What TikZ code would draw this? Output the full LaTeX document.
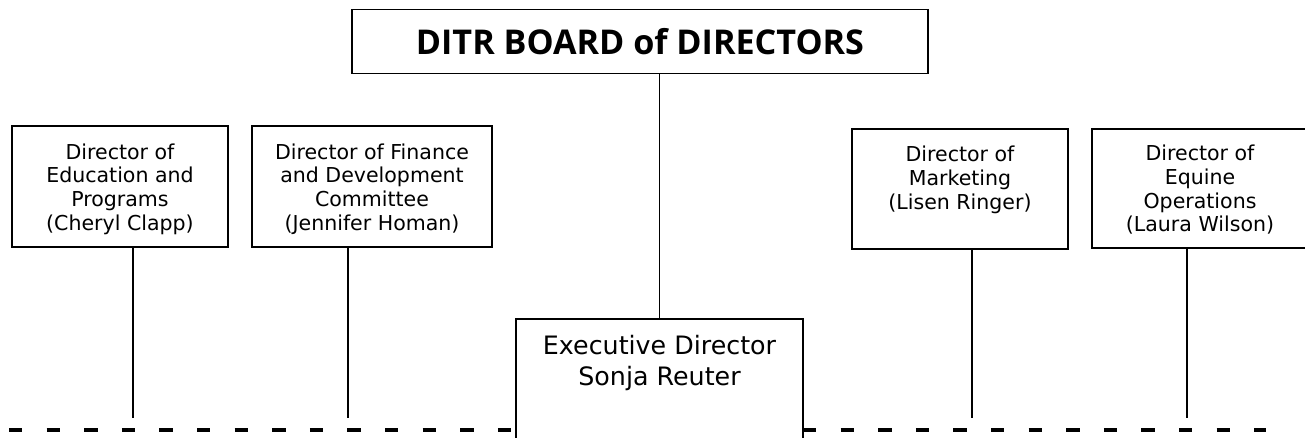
\documentclass[tikz,border=0pt]{standalone}
\usepackage{fontspec}
\setmainfont{DejaVu Sans}
\newfontfamily\boardfont{Open Sans}
\usetikzlibrary{calc}
\tikzset{
  px/.style={x=0.75pt,y=-0.75pt},
  orgbox/.style 2 args={draw=black, line width=1.4pt, inner sep=0pt, outer sep=0pt,
    minimum width=#1*0.75pt, minimum height=#2*0.75pt, fill=white},
  smalltxt/.style={inner sep=0pt, align=center, anchor=north,
    font=\fontsize{15.4pt}{17.7pt}\selectfont},
  exectxt/.style={inner sep=0pt, align=center, anchor=north,
    font=\fontsize{19pt}{23.25pt}\selectfont},
  stem/.style={line width=1.2pt},
  dashline/.style={line width=3.4pt, dash pattern=on 10.1pt off 18.1pt},
}
\begin{document}
\begin{tikzpicture}[px]
\useasboundingbox (0,0) rectangle (1305,437);
\clip (0,0) rectangle (1305,437);
% boxes
\node[orgbox={576}{64}, font=\boardfont\bfseries\fontsize{25.6pt}{30pt}\selectfont] (board) at (640,41.5) {DITR BOARD of DIRECTORS};
\node[orgbox={216}{121}] (b1) at (120,186.5) {};
\node[orgbox={240}{121}] (b2) at (372,186.5) {};
\node[orgbox={216}{120}] (b3) at (960,189) {};
\node[orgbox={214}{119}] (b4) at (1199,188.5) {};
\node[orgbox={287}{150}, line width=1.1pt] (exec) at (659.5,394) {};
% texts
\node[smalltxt] (t1) at (120,143.5) {Director of\\Education and\\Programs\\(Cheryl Clapp)};
\node[smalltxt] (t2) at (372,143.5) {Director of Finance\\and Development\\Committee\\(Jennifer Homan)};
\node[smalltxt] (t3) at (960,146) {Director of\\Marketing\\(Lisen Ringer)};
\node[smalltxt] (t4) at (1200,145) {Director of\\Equine\\Operations\\(Laura Wilson)};
\node[exectxt] (te) at (659.5,335) {Executive Director\\Sonja Reuter};
% connectors
\draw[stem] (exec.north) -- (exec.north |- board.south);
\coordinate (e1) at (133,418);
\coordinate (e2) at (348,418);
\coordinate (e3) at (972,418);
\coordinate (e4) at (1187,418);
\draw[stem] (e1 |- b1.south) -- (e1);
\draw[stem] (e2 |- b2.south) -- (e2);
\draw[stem] (e3 |- b3.south) -- (e3);
\draw[stem] (e4 |- b4.south) -- (e4);
% dashed line
\coordinate (dl) at (9,430);
\coordinate (dr) at (1266,430);
\draw[dashline] (dl) -- (dl -| exec.west);
\draw[dashline] (dr -| exec.east) -- (dr);
\end{tikzpicture}
\end{document}
